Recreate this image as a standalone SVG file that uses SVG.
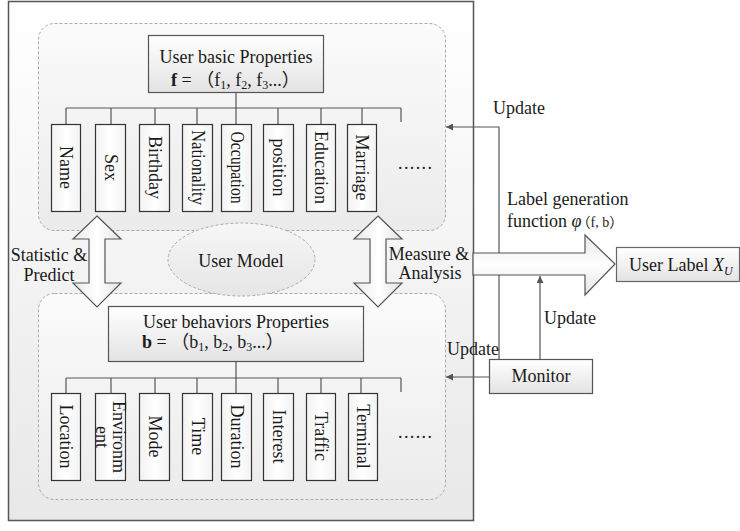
<svg xmlns="http://www.w3.org/2000/svg" width="740" height="531" viewBox="0 0 740 531">
<defs>
<linearGradient id="gOuter" x1="0" y1="0" x2="0" y2="1"><stop offset="0" stop-color="#ffffff"/><stop offset="1" stop-color="#e8e8e8"/></linearGradient>
<linearGradient id="gPanel" x1="0" y1="0" x2="0" y2="1"><stop offset="0" stop-color="#fbfbfb"/><stop offset="1" stop-color="#ebebeb"/></linearGradient>
<linearGradient id="gHead" x1="0" y1="0" x2="0" y2="1"><stop offset="0" stop-color="#ffffff"/><stop offset="1" stop-color="#e3e3e3"/></linearGradient>
<linearGradient id="gBox" x1="0" y1="0" x2="1" y2="0"><stop offset="0" stop-color="#f2f2f2"/><stop offset="0.5" stop-color="#ffffff"/><stop offset="1" stop-color="#f2f2f2"/></linearGradient>
<linearGradient id="gArrV" x1="0" y1="0" x2="1" y2="0"><stop offset="0" stop-color="#e8e8e8"/><stop offset="0.5" stop-color="#ffffff"/><stop offset="1" stop-color="#e4e4e4"/></linearGradient>
<linearGradient id="gArrH" x1="0" y1="0" x2="0" y2="1"><stop offset="0" stop-color="#e8e8e8"/><stop offset="0.5" stop-color="#ffffff"/><stop offset="1" stop-color="#e4e4e4"/></linearGradient>
<linearGradient id="gEll" x1="0" y1="0" x2="0" y2="1"><stop offset="0" stop-color="#f6f6f6"/><stop offset="1" stop-color="#e6e6e6"/></linearGradient>
<marker id="ah" viewBox="0 0 10 10" refX="10" refY="5" markerWidth="8" markerHeight="7" markerUnits="userSpaceOnUse" orient="auto"><path d="M0,0 L10,5 L0,10 z" fill="#555"/></marker>
<style>
text{font-family:"Liberation Serif","Noto Sans CJK SC",serif;font-size:18px;fill:#1a1a1a}
.c{text-anchor:middle}
.v{text-anchor:middle;dominant-baseline:central}
.lbl{fill:url(#gBox);stroke:#333;stroke-width:1.2}
.hdr{fill:url(#gHead);stroke:#555;stroke-width:1.2}
.panel{fill:url(#gPanel);stroke:#aaa;stroke-width:1;stroke-dasharray:3,2}
.tree{fill:none;stroke:#555;stroke-width:1.2}
.conn{fill:none;stroke:#555;stroke-width:1.2}
.blk{stroke:#555;stroke-width:1.2}
.sub{font-size:12px}
</style>
</defs>

<g id="outer"><rect x="8.5" y="1.5" width="465" height="519" fill="url(#gOuter)" stroke="#555" stroke-width="1.5"/></g>

<g id="panel-basic"><rect class="panel" x="38.5" y="23.5" width="407" height="207" rx="16"/></g>
<g id="panel-behavior"><rect class="panel" x="38.5" y="293.5" width="407" height="206" rx="16"/></g>

<g id="user-model">
<ellipse cx="241.5" cy="259.5" rx="73.5" ry="36.5" fill="url(#gEll)" stroke="#aaa" stroke-width="1" stroke-dasharray="3,2"/>
<text class="c" x="241" y="267">User Model</text>
</g>

<g id="connectors">
<path class="tree" d="M236,92 V108 M66,108 H401 M66,108 V124 M111,108 V124 M155,108 V124 M197,108 V124 M236,108 V124 M278,108 V124 M321,108 V124 M362,108 V124 M401,108 V122"/>
<path class="tree" d="M236,361 V378 M66,378 H401 M66,378 V393 M111,378 V393 M155,378 V393 M197,378 V393 M236,378 V393 M278,378 V393 M321,378 V393 M361,378 V393 M401,378 V392"/>
<path class="conn" d="M499,359 V127 H446" marker-end="url(#ah)"/>
<path class="conn" d="M489,377 H446" marker-end="url(#ah)"/>
<path class="conn" d="M540,359 V276" marker-end="url(#ah)"/>
</g>

<g id="arrow-stat">
<polygon class="blk" fill="url(#gArrV)" points="97,216 121,239 105,239 105,283 121,283 97,307 73,283 89,283 89,239 73,239"/>
</g>
<g id="arrow-measure">
<polygon class="blk" fill="url(#gArrV)" points="378,216 402,239 386,239 386,283 402,283 378,307 354,283 370,283 370,239 354,239"/>
</g>
<g id="arrow-label">
<polygon class="blk" fill="url(#gArrH)" points="473,253 585,253 585,235 615,264 585,295 585,275 473,275"/>
</g>

<g id="basic-header">
<rect class="hdr" x="148.5" y="35.5" width="175" height="57"/>
<text class="c" x="236" y="63">User basic Properties</text>
<text x="171" y="86"><tspan font-weight="bold">f</tspan> = （f<tspan class="sub" dy="3">1</tspan><tspan dy="-3">, f</tspan><tspan class="sub" dy="3">2</tspan><tspan dy="-3">, f</tspan><tspan class="sub" dy="3">3</tspan><tspan dy="-3">...）</tspan></text>
</g>

<g id="f-name"><rect class="lbl" x="51.5" y="124.5" width="29" height="87"/><text class="v" transform="translate(66,167.5) rotate(90)">Name</text></g>
<g id="f-sex"><rect class="lbl" x="95.5" y="124.5" width="30" height="87"/><text class="v" transform="translate(110.5,167.5) rotate(90)">Sex</text></g>
<g id="f-birthday"><rect class="lbl" x="139.5" y="124.5" width="30" height="87"/><text class="v" transform="translate(154.5,167.5) rotate(90)">Birthday</text></g>
<g id="f-nationality"><rect class="lbl" x="182.5" y="124.5" width="30" height="87"/><text class="v" transform="translate(197.5,167.5) rotate(90)" textLength="75" lengthAdjust="spacingAndGlyphs">Nationality</text></g>
<g id="f-occupation"><rect class="lbl" x="221.5" y="124.5" width="30" height="87"/><text class="v" transform="translate(236.5,167.5) rotate(90)" textLength="72" lengthAdjust="spacingAndGlyphs">Occupation</text></g>
<g id="f-position"><rect class="lbl" x="263.5" y="124.5" width="30" height="87"/><text class="v" transform="translate(278.5,167.5) rotate(90)">position</text></g>
<g id="f-education"><rect class="lbl" x="306.5" y="124.5" width="29" height="87"/><text class="v" transform="translate(321,167.5) rotate(90)">Education</text></g>
<g id="f-marriage"><rect class="lbl" x="347.5" y="124.5" width="29" height="87"/><text class="v" transform="translate(362,167.5) rotate(90)">Marriage</text></g>
<g id="f-more"><text class="c" x="415" y="169" textLength="34" lengthAdjust="spacing">......</text></g>

<g id="behavior-header">
<rect class="hdr" x="108.5" y="306.5" width="255" height="55"/>
<text class="c" x="236" y="328">User behaviors Properties</text>
<text x="142" y="348"><tspan font-weight="bold">b</tspan> = （b<tspan class="sub" dy="3">1</tspan><tspan dy="-3">, b</tspan><tspan class="sub" dy="3">2</tspan><tspan dy="-3">, b</tspan><tspan class="sub" dy="3">3</tspan><tspan dy="-3">...）</tspan></text>
</g>

<g id="b-location"><rect class="lbl" x="51.5" y="393.5" width="29" height="87"/><text class="v" transform="translate(66,436.5) rotate(90)">Location</text></g>
<g id="b-environment"><rect class="lbl" x="95.5" y="393.5" width="30" height="87"/><text class="c" transform="translate(110.5,437) rotate(90)"><tspan x="0" y="-2">Environm</tspan><tspan x="0" y="15">ent</tspan></text></g>
<g id="b-mode"><rect class="lbl" x="139.5" y="393.5" width="30" height="87"/><text class="v" transform="translate(154.5,436.5) rotate(90)">Mode</text></g>
<g id="b-time"><rect class="lbl" x="182.5" y="393.5" width="30" height="87"/><text class="v" transform="translate(197.5,436.5) rotate(90)">Time</text></g>
<g id="b-duration"><rect class="lbl" x="221.5" y="393.5" width="30" height="87"/><text class="v" transform="translate(236.5,436.5) rotate(90)">Duration</text></g>
<g id="b-interest"><rect class="lbl" x="263.5" y="393.5" width="30" height="87"/><text class="v" transform="translate(278.5,436.5) rotate(90)">Interest</text></g>
<g id="b-traffic"><rect class="lbl" x="306.5" y="393.5" width="29" height="87"/><text class="v" transform="translate(321,436.5) rotate(90)">Traffic</text></g>
<g id="b-terminal"><rect class="lbl" x="348.5" y="393.5" width="29" height="87"/><text class="v" transform="translate(363,436.5) rotate(90)">Terminal</text></g>
<g id="b-more"><text class="c" x="415" y="438" textLength="34" lengthAdjust="spacing">......</text></g>

<g id="label-stat">
<text class="c" x="49" y="261">Statistic &amp;</text>
<text class="c" x="49" y="281">Predict</text>
</g>
<g id="label-measure">
<text class="c" x="429" y="260">Measure &amp;</text>
<text class="c" x="430" y="279">Analysis</text>
</g>
<g id="label-func">
<text x="507" y="205">Label generation</text>
<text x="507" y="227">function <tspan font-style="italic">φ</tspan><tspan font-size="14" dx="-5">（f, b）</tspan></text>
</g>

<g id="user-label">
<rect x="616.5" y="247.5" width="123" height="34" fill="url(#gHead)" stroke="#666" stroke-width="1.2"/>
<text x="629" y="271">User Label <tspan font-style="italic">X</tspan><tspan font-style="italic" class="sub" dy="4">U</tspan></text>
</g>

<g id="monitor">
<rect x="489.5" y="359.5" width="103" height="34" fill="url(#gHead)" stroke="#555" stroke-width="1.2"/>
<text class="c" x="541" y="382">Monitor</text>
</g>

<g id="update-labels">
<text x="493" y="114">Update</text>
<text x="544" y="324">Update</text>
<text x="447" y="355">Update</text>
</g>
</svg>
